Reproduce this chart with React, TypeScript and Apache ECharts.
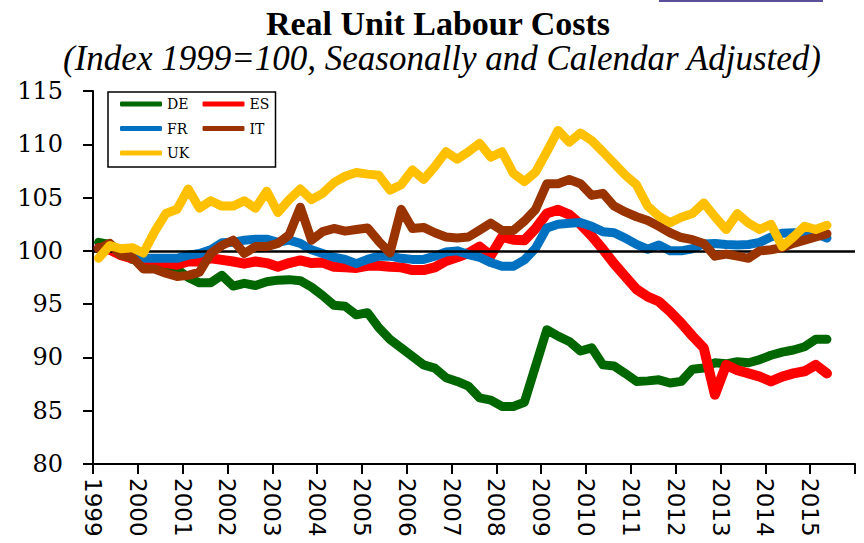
import React, { useEffect, useRef } from "react";
import * as echarts from "echarts";

const yearLabels = ["1999", "2000", "2001", "2002", "2003", "2004", "2005", "2006", "2007", "2008", "2009", "2010", "2011", "2012", "2013", "2014", "2015"];
const quartersOnAxis = 68;

const DE = [100.8, 100.6, 99.9, 99.2, 99.0, 98.9, 98.7, 98.3, 97.5, 97.0, 97.0, 97.7, 96.7, 96.95, 96.75, 97.1, 97.25, 97.3, 97.2, 96.6, 95.8, 94.9, 94.8, 94.0, 94.2, 92.8, 91.7, 90.9, 90.1, 89.3, 89.0, 88.1, 87.75, 87.3, 86.2, 86.0, 85.4, 85.4, 85.8, 89.2, 92.6, 92.0, 91.5, 90.6, 90.9, 89.3, 89.2, 88.5, 87.75, 87.8, 87.9, 87.6, 87.75, 88.9, 89.0, 89.5, 89.4, 89.6, 89.5, 89.8, 90.2, 90.5, 90.7, 91.0, 91.7, 91.7];
const ES = [100.25, 100.1, 99.6, 99.3, 99.15, 99.0, 98.85, 98.7, 99.0, 99.0, 99.3, 99.15, 99.0, 98.8, 99.0, 98.85, 98.5, 98.85, 99.1, 98.85, 98.9, 98.5, 98.45, 98.4, 98.6, 98.6, 98.5, 98.45, 98.2, 98.2, 98.45, 99.05, 99.4, 99.8, 100.4, 99.55, 101.3, 101.05, 101.0, 102.1, 103.5, 103.85, 103.4, 102.5, 101.4, 100.15, 98.8, 97.6, 96.4, 95.7, 95.25, 94.3, 93.2, 92.0, 90.9, 86.5, 89.3, 88.8, 88.5, 88.2, 87.75, 88.2, 88.5, 88.7, 89.3, 88.5];
const FR = [100.2, 100.5, 99.75, 99.4, 99.3, 99.3, 99.3, 99.3, 99.6, 99.75, 100.1, 100.75, 100.8, 101.0, 101.1, 101.1, 100.8, 101.0, 100.7, 100.1, 99.75, 99.4, 99.2, 98.8, 99.2, 99.5, 99.5, 99.3, 99.2, 99.2, 99.5, 99.9, 100.0, 99.65, 99.4, 98.9, 98.55, 98.55, 99.15, 100.25, 102.15, 102.5, 102.6, 102.65, 102.3, 101.8, 101.7, 101.2, 100.6, 100.15, 100.55, 100.0, 100.0, 100.2, 100.65, 100.7, 100.6, 100.55, 100.6, 100.8, 101.3, 101.65, 101.7, 101.65, 101.65, 101.2];
const IT = [100.2, 100.7, 99.6, 99.4, 98.3, 98.3, 97.9, 97.6, 97.7, 98.0, 99.75, 100.5, 101.0, 99.75, 100.4, 100.4, 100.7, 101.5, 104.1, 101.0, 101.8, 102.1, 101.85, 102.0, 102.15, 100.9, 99.8, 103.9, 102.1, 102.2, 101.7, 101.3, 101.2, 101.3, 101.95, 102.6, 101.9, 101.9, 102.8, 103.9, 106.3, 106.3, 106.7, 106.3, 105.2, 105.4, 104.2, 103.65, 103.2, 102.85, 102.3, 101.7, 101.25, 101.05, 100.7, 99.5, 99.7, 99.5, 99.3, 100.0, 100.1, 100.3, 100.7, 101.0, 101.3, 101.6];
const UK = [99.3, 100.5, 100.2, 100.3, 99.8, 101.8, 103.5, 103.9, 105.8, 104.0, 104.7, 104.2, 104.2, 104.7, 104.0, 105.6, 103.6, 104.8, 105.8, 104.8, 105.4, 106.4, 107.0, 107.35, 107.2, 107.1, 105.7, 106.2, 107.6, 106.7, 107.9, 109.3, 108.6, 109.3, 110.1, 108.8, 109.3, 107.3, 106.5, 107.4, 109.3, 111.3, 110.2, 111.05, 110.35, 109.3, 108.2, 107.1, 106.2, 104.2, 103.25, 102.65, 103.15, 103.5, 104.5, 103.2, 102.0, 103.5, 102.6, 102.0, 102.5, 100.4, 101.3, 102.3, 102.0, 102.4];

const seriesNames = ["DE", "ES", "FR", "IT", "UK"];
const seriesValues = [DE, ES, FR, IT, UK];
const seriesColors = ["#006600", "#FF0000", "#0070C0", "#993300", "#FFC000"];
const seriesWidths = [9, 10, 9, 9, 9];

export default function App() {
  const ref = useRef<HTMLDivElement>(null);

  useEffect(() => {
    if (!ref.current) return;
    const chart = echarts.init(ref.current, null, { renderer: "svg" });

    const series: any[] = seriesNames.map((name, k) => ({
      name,
      type: "line",
      data: seriesValues[k].map((v, i) => [i + 0.5, v]),
      symbol: "none",
      smooth: false,
      lineStyle: { color: seriesColors[k], width: seriesWidths[k], cap: "round", join: "round" },
      itemStyle: { color: seriesColors[k] },
      z: 2 + k,
    }));
    series[series.length - 1].markLine = {
      silent: true,
      symbol: ["none", "none"],
      label: { show: false },
      lineStyle: { color: "#000", width: 2.5, type: "solid" },
      data: [{ yAxis: 100 }],
    };

    chart.setOption({
      animation: false,
      title: [
        {
          text: "Real Unit Labour Costs",
          left: 433,
          top: 1,
          textAlign: "center",
          textStyle: { fontFamily: "Liberation Serif", fontWeight: "bold", fontSize: 34, color: "#000" },
        },
        {
          text: "(Index 1999=100, Seasonally and Calendar Adjusted)",
          left: 437,
          top: 36,
          textAlign: "center",
          textStyle: { fontFamily: "Liberation Serif", fontStyle: "italic", fontWeight: "normal", fontSize: 35, color: "#000" },
        },
      ],
      graphic: [
        { type: "rect", shape: { x: 659, y: 0, width: 164, height: 2 }, style: { fill: "#5b4f9b" } },
      ],
      legend: {
        data: seriesNames,
        left: 108,
        top: 92,
        width: 160,
        orient: "horizontal",
        padding: [5, 1, 7, 12],
        itemGap: 10.5,
        itemWidth: 42,
        itemHeight: 5,
        icon: "roundRect",
        borderColor: "#000",
        borderWidth: 1.5,
        backgroundColor: "#fff",
        textStyle: { fontFamily: "DejaVu Serif", fontSize: 14, color: "#000", width: 25, lineHeight: 14 },
      },
      grid: { left: 93, right: 9, top: 91, bottom: 79, containLabel: false, outerBoundsMode: "none" },
      xAxis: {
        type: "value",
        min: 0,
        max: quartersOnAxis,
        interval: 4,
        axisLine: { show: true, lineStyle: { color: "#000", width: 2 } },
        axisTick: { show: true, length: 10, lineStyle: { color: "#000", width: 2 } },
        splitLine: { show: false },
        axisLabel: {
          rotate: -90,
          margin: 14,
          fontFamily: "DejaVu Sans",
          fontSize: 23,
          color: "#000",
          formatter: (v: number) => yearLabels[v / 4] ?? "",
        },
      },
      yAxis: {
        type: "value",
        min: 80,
        max: 115,
        interval: 5,
        axisLine: { show: true, lineStyle: { color: "#000", width: 2 } },
        axisTick: { show: true, length: 10, lineStyle: { color: "#000", width: 2 } },
        splitLine: { show: false },
        axisLabel: { margin: 30, fontFamily: "DejaVu Serif", fontSize: 24, color: "#000" },
      },
      series,
    });

    return () => chart.dispose();
  }, []);

  return <div ref={ref} style={{ position: "absolute", left: 0, top: 0, width: 864, height: 543 }} />;
}
